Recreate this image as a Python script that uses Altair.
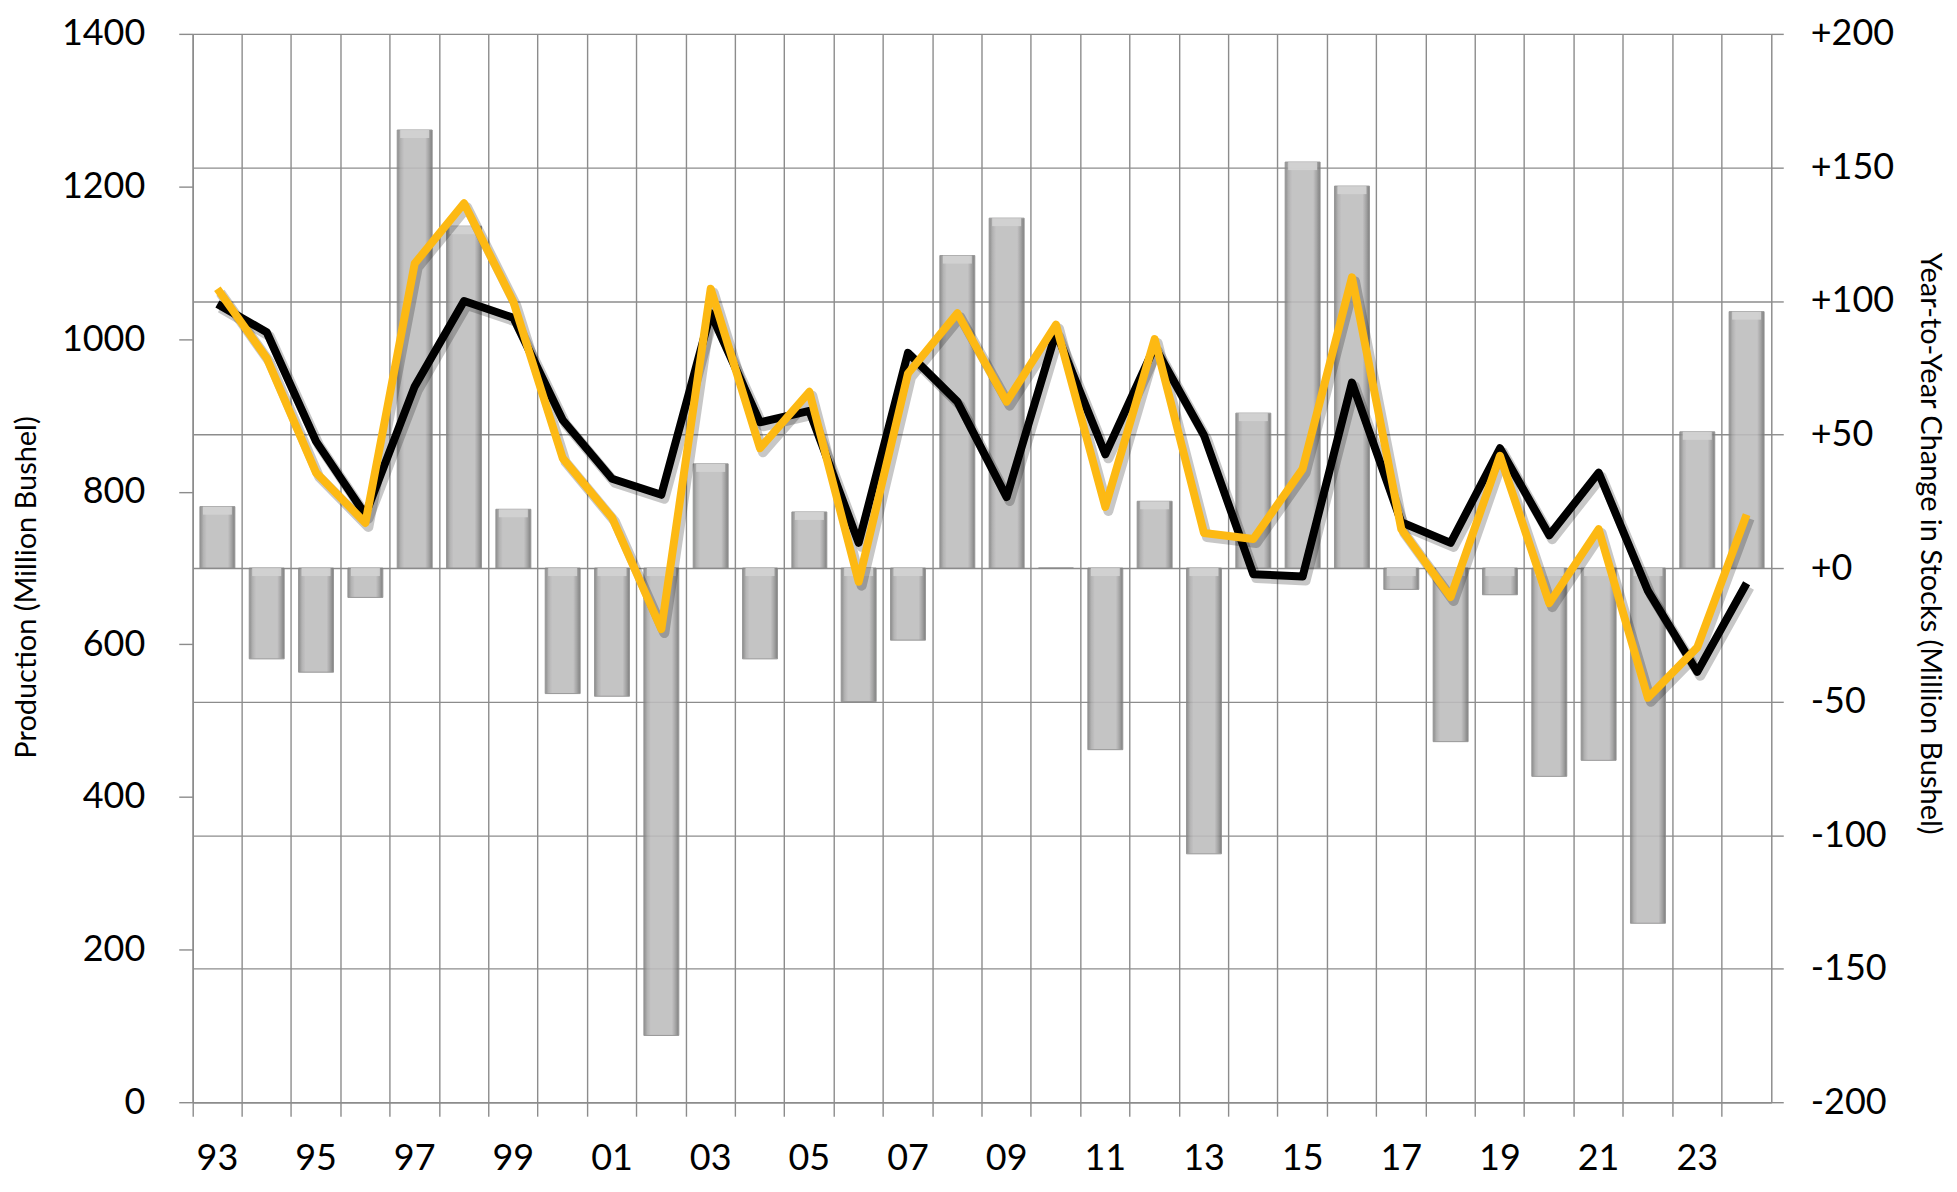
import altair as alt
import pandas as pd

# ---- data ----
years = list(range(1993, 2025))
stock_change = [23, -34, -39, -11, 164, 128, 22, -47, -48, -175,
                39, -34, 21, -50, -27, 117, 131, 0, -68, 25, -107, 58,
                152, 143, -8, -65, -10, -78, -72, -133, 51, 96]
series_black = [1046, 1009, 866, 770, 938, 1050, 1028, 894, 817, 796,
                1034, 891, 906, 733, 982, 918, 793, 1009, 849, 990, 874, 692,
                689, 943, 760, 733, 857, 743, 825, 670, 564, 680]
series_gold = [1066, 975, 825, 759, 1099, 1178, 1049, 844, 766, 620,
               1066, 857, 931, 682, 955, 1034, 918, 1019, 780, 1000, 746, 738,
               830, 1081, 751, 662, 847, 654, 751, 530, 596, 770]
left_ticks = [0, 200, 400, 600, 800, 1000, 1200, 1400]
right_ticks = [-200, -150, -100, -50, 0, 50, 100, 150, 200]

df = pd.DataFrame({"year": years, "change": stock_change,
                   "black": series_black, "gold": series_gold})

W, H = 1581, 1070
GRID = "#8c8c8c"
FONT = "Lato"
FS = 36
TFS = 29

x_enc = alt.X(
    "year:O",
    scale=alt.Scale(paddingInner=0, paddingOuter=0),
    axis=alt.Axis(
        title=None, bandPosition=0,
        labelExpr="datum.value % 2 == 1 ? substring(datum.label, 2, 4) : ''",
        labelAngle=0, labelAlign="center", labelBaseline="top",
        grid=True, gridColor=GRID, gridWidth=1.4, gridOpacity=1,
        tickSize=14, tickColor=GRID, tickWidth=1.4,
        domainColor=GRID, domainWidth=1.4,
        labelFont=FONT, labelFontSize=FS, labelPadding=25, labelColor="black",
    ),
)

right_axis = alt.Axis(
    orient="right", values=right_ticks,
    labelExpr="(datum.value >= 0 ? '+' : '') + toString(datum.value)",
    grid=True, gridColor=GRID, gridWidth=1.4, gridOpacity=1,
    tickSize=12, tickColor=GRID, tickWidth=1.4,
    domainColor=GRID, domainWidth=1.4,
    labelFont=FONT, labelFontSize=FS, labelPadding=27, labelColor="black",
    labelAlign="left", labelBaseline="middle",
    title="Year-to-Year Change in Stocks (Million Bushel)",
    titleFont=FONT, titleFontSize=TFS, titleFontWeight="normal", titleColor="black",
    titleAngle=90, titleBaseline="middle", titleAlign="center",
    titleX=158, titleY=510,
)
right_scale = alt.Scale(domain=[-200, 200], nice=False, zero=False)

bar_grad = alt.Gradient(
    gradient="linear", x1=0, x2=1, y1=0, y2=0,
    stops=[alt.GradientStop(color="#7d7d7d", offset=0),
           alt.GradientStop(color="#a9a9a9", offset=0.1),
           alt.GradientStop(color="#bdbcbd", offset=0.2),
           alt.GradientStop(color="#bdbcbd", offset=0.8),
           alt.GradientStop(color="#9a9a9a", offset=0.9),
           alt.GradientStop(color="#6e6e6e", offset=1)],
)

base = alt.Chart(df).transform_calculate(
    zero="0",
    cap_top="max(datum.change, 0)",
    cap_bot="max(datum.change, 0) - min(3, abs(datum.change))",
)

bars = base.mark_bar(size=35, color=bar_grad, stroke="#8a8a8a",
                     strokeWidth=1, opacity=0.88).encode(
    x=x_enc,
    y=alt.Y("change:Q", scale=right_scale, axis=right_axis),
    y2="zero:Q",
)
caps = base.transform_filter("datum.change != 0").mark_bar(
    size=29, color="#d3d3d3", opacity=0.9).encode(
    x=x_enc,
    y=alt.Y("cap_top:Q", scale=right_scale, axis=right_axis),
    y2="cap_bot:Q",
)
bar_group = alt.layer(bars, caps)

left_scale = alt.Scale(domain=[0, 1400], nice=False)
left_axis = alt.Axis(
    orient="left", values=left_ticks, grid=False, format="d",
    tickSize=14, tickColor=GRID, tickWidth=1.4,
    domainColor=GRID, domainWidth=1.4,
    labelFont=FONT, labelFontSize=FS, labelPadding=34, labelColor="black",
    title="Production (Million Bushel)",
    titleFont=FONT, titleFontSize=TFS, titleFontWeight="normal", titleColor="black",
    titleAngle=270, titleBaseline="middle", titleAlign="center",
    titleX=-166, titleY=554,
)

def shadow(field):
    return base.mark_line(color="#000000", opacity=0.22, strokeWidth=10,
                          xOffset=3, yOffset=4, strokeJoin="round").encode(
        x=x_enc, y=alt.Y(f"{field}:Q", scale=left_scale, axis=left_axis))

black_line = base.mark_line(color="#000000", strokeWidth=8, strokeJoin="round").encode(
    x=x_enc, y=alt.Y("black:Q", scale=left_scale, axis=left_axis))
gold_line = base.mark_line(color="#FDB913", strokeWidth=8, strokeJoin="round").encode(
    x=x_enc, y=alt.Y("gold:Q", scale=left_scale, axis=left_axis))

line_group = alt.layer(shadow("black"), black_line, shadow("gold"), gold_line)

chart = alt.layer(bar_group, line_group).resolve_scale(y="independent").properties(
    width=W, height=H,
    padding={"left": 185, "top": 25, "right": 178, "bottom": 75},
    autosize=alt.AutoSizeParams(type="none"),
).configure_view(stroke=None).configure(background="white")

chart.save("out.html", embed_options={"renderer": "svg", "actions": False})
